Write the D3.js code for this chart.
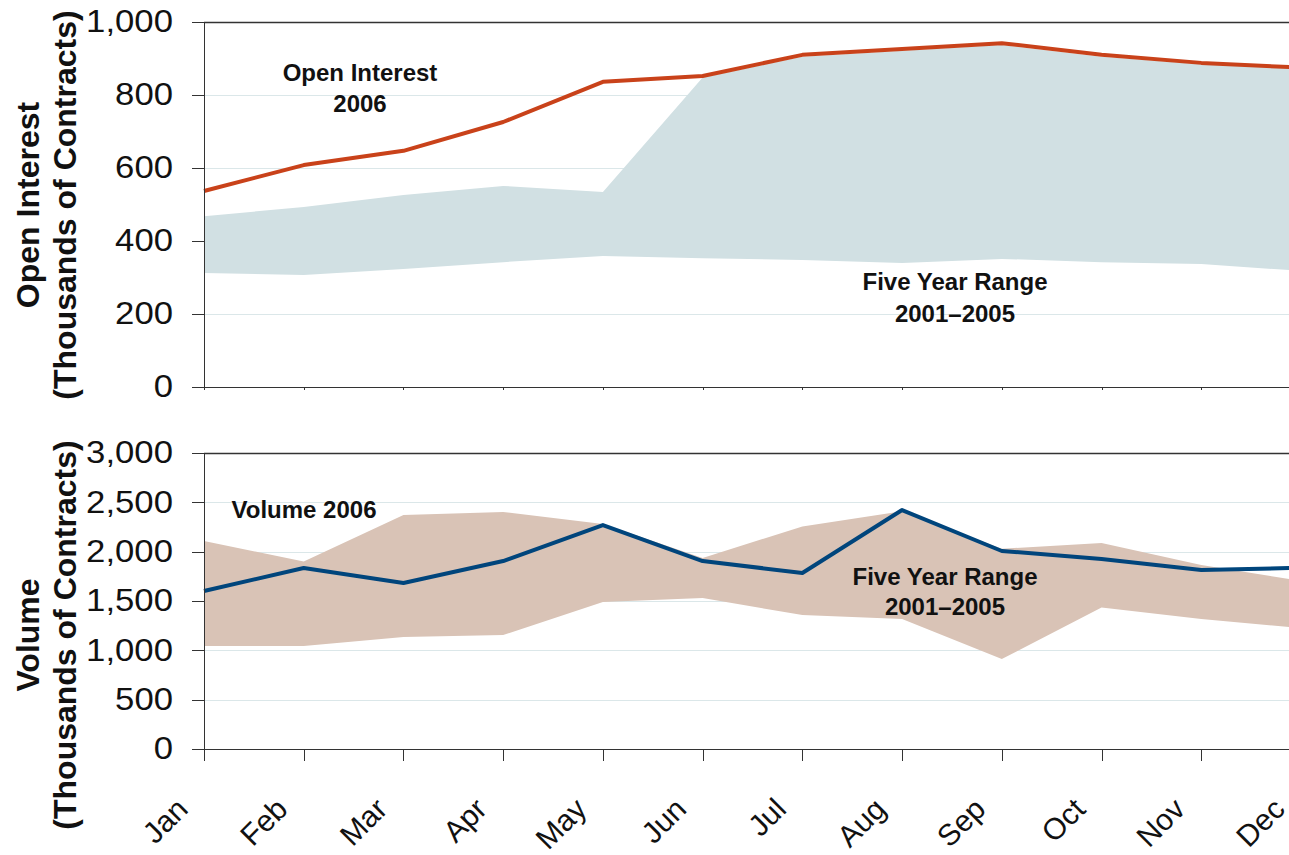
<!DOCTYPE html>
<html lang="en">
<head>
<meta charset="utf-8">
<title>Open Interest and Volume, 2006 vs Five Year Range</title>
<script src="https://d3js.org/d3.v7.min.js"></script>
<style>
	body { margin: 0; background: #fff; }
	.axis text { font-family: "Liberation Sans", Arial, sans-serif; fill: #111; }
	.axis path, .axis line { fill: none; stroke: #333; shape-rendering: crispEdges; }
	.note { font-family: "Liberation Sans", Arial, sans-serif; font-weight: bold; fill: #111; }
</style>
</head>
<body>
<script>
	// months along the x axis
	var months = ["Jan", "Feb", "Mar", "Apr", "May", "Jun", "Jul", "Aug", "Sep", "Oct", "Nov", "Dec"];

	// open interest, thousands of contracts
	var oi2006     = [537, 608, 647, 726, 836, 852, 910, 926, 942, 910, 888, 875];
	var oiRangeHi  = [468, 493, 526, 551, 534, 848, 905, 921, 937, 905, 884, 872];
	var oiRangeLo  = [312, 307, 323, 342, 359, 353, 348, 340, 351, 342, 337, 318];
	var oiTicks    = [0, 200, 400, 600, 800, 1000];

	// volume, thousands of contracts
	var vol2006    = [1601, 1834, 1682, 1905, 2270, 1905, 1784, 2422, 2007, 1926, 1814, 1837];
	var volRangeHi = [2108, 1900, 2371, 2402, 2280, 1936, 2255, 2410, 2030, 2088, 1865, 1704];
	var volRangeLo = [1044, 1044, 1135, 1155, 1490, 1530, 1358, 1318, 912, 1435, 1318, 1225];
	var volTicks   = [0, 500, 1000, 1500, 2000, 2500, 3000];

	var w = 1289, h = 855;
	var left = 204, right = 1301; // Dec falls just past the right edge of the picture

	var svg = d3.select("body").append("svg")
		.attr("width", w)
		.attr("height", h);

	var x = d3.scalePoint().domain(months).range([left, right]);

	function drawPanel(p) {
		var y = d3.scaleLinear().domain([0, p.max]).range([p.bottom, p.top]);
		var g = svg.append("g");

		// light gridlines, top one dark
		g.selectAll("line.grid")
			.data(p.ticks.filter(function(d){ return d > 0; }))
			.enter().append("line")
			.attr("x1", left).attr("x2", w)
			.attr("y1", function(d){ return Math.round(y(d)) + 0.5; })
			.attr("y2", function(d){ return Math.round(y(d)) + 0.5; })
			.attr("stroke", function(d){ return d === p.max ? "#333" : "#dbe7e9"; })
			.attr("stroke-width", function(d){ return d === p.max ? 1.5 : 1; });

		// five year range band
		var area = d3.area()
			.x(function(d, i){ return x(months[i]); })
			.y0(function(d, i){ return y(p.lo[i]); })
			.y1(function(d, i){ return y(p.hi[i]); });
		g.append("path")
			.datum(p.hi)
			.attr("d", area)
			.attr("fill", p.band);

		// 2006 line
		var line = d3.line()
			.x(function(d, i){ return x(months[i]); })
			.y(function(d){ return y(d); });
		g.append("path")
			.datum(p.line)
			.attr("d", line)
			.attr("fill", "none")
			.attr("stroke", p.lineColor)
			.attr("stroke-width", 4)
			.attr("stroke-linejoin", "round");

		// y axis
		var yAxis = d3.axisLeft(y)
			.tickValues(p.ticks)
			.tickSize(12)
			.tickSizeOuter(0)
			.tickFormat(d3.format(","));
		var ya = g.append("g")
			.attr("class", "axis")
			.attr("transform", "translate(" + left + ",0)")
			.call(yAxis);
		// labels end at x = 173, drawn a little wide like the original
		ya.selectAll("text")
			.attr("font-size", 31)
			.attr("x", 0)
			.attr("transform", "translate(-31,0) scale(1.12,1)");
		ya.select(".domain").attr("stroke-width", 1.5);

		// x axis
		var xAxis = d3.axisBottom(x)
			.tickSize(p.xTick)
			.tickSizeOuter(0);
		var xa = g.append("g")
			.attr("class", "axis")
			.attr("transform", "translate(0," + p.bottom + ")")
			.call(xAxis);
		xa.select(".domain").attr("stroke-width", 1.5);
		xa.selectAll("line").attr("stroke", "#555");
		if (p.labels) {
			xa.selectAll("text")
				.attr("font-size", 30)
				.attr("text-anchor", "end")
				.attr("dy", null)
				.attr("y", null)
				.attr("transform", "translate(-15," + (811 - p.bottom) + ") rotate(-45)");
		} else {
			xa.selectAll("text").remove();
		}

		// axis title, two lines
		var cy = p.titleY;
		g.append("text")
			.attr("class", "note")
			.attr("text-anchor", "middle")
			.attr("font-size", 32)
			.attr("transform", "translate(39," + cy + ") rotate(-90)")
			.text(p.title1);
		g.append("text")
			.attr("class", "note")
			.attr("text-anchor", "middle")
			.attr("font-size", 32)
			.attr("transform", "translate(76," + cy + ") rotate(-90)")
			.text(p.title2);

		return y;
	}

	drawPanel({
		top: 22, bottom: 387, max: 1000, ticks: oiTicks,
		hi: oiRangeHi, lo: oiRangeLo, line: oi2006,
		band: "#d1e0e3", lineColor: "#c9421a",
		xTick: 3, labels: false,
		title1: "Open Interest", title2: "(Thousands of Contracts)", titleY: 205
	});

	drawPanel({
		top: 453, bottom: 749, max: 3000, ticks: volTicks,
		hi: volRangeHi, lo: volRangeLo, line: vol2006,
		band: "#d9c3b6", lineColor: "#00457c",
		xTick: 12, labels: true,
		title1: "Volume", title2: "(Thousands of Contracts)", titleY: 635
	});

	// annotations
	function note(txt, cx, by) {
		svg.append("text").attr("class", "note").attr("font-size", 24)
			.attr("text-anchor", "middle").attr("x", cx).attr("y", by).text(txt);
	}
	note("Open Interest", 360, 81);
	note("2006", 360, 112);
	note("Five Year Range", 955, 290);
	note("2001\u20132005", 955, 322);
	note("Volume 2006", 304, 518);
	note("Five Year Range", 945, 585);
	note("2001\u20132005", 945, 615);
</script>
</body>
</html>
